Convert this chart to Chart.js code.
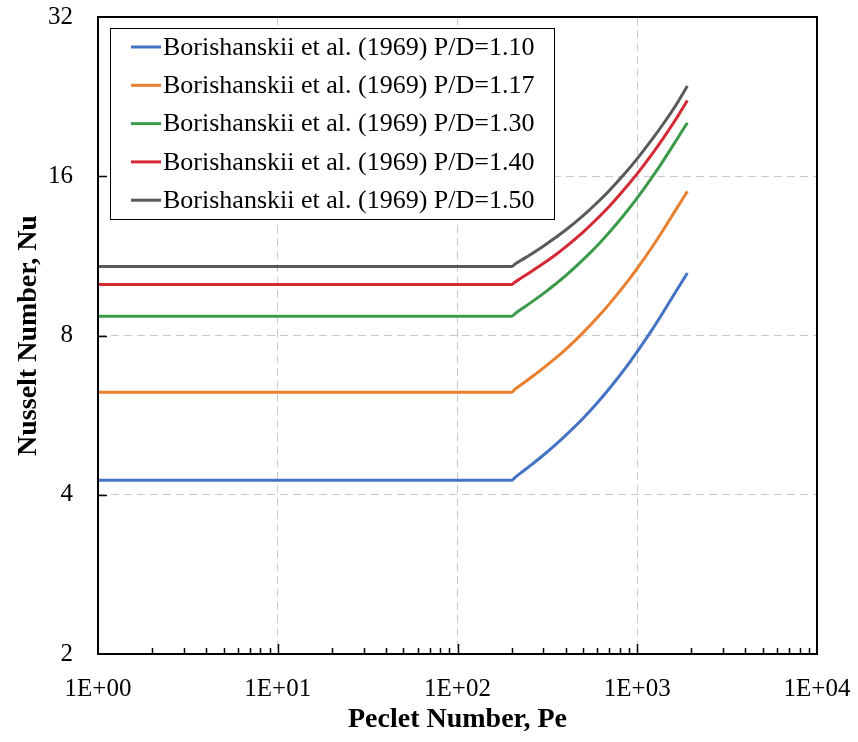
<!DOCTYPE html>
<html>
<head>
<meta charset="utf-8">
<script src="https://cdn.jsdelivr.net/npm/chart.js@4/dist/chart.umd.min.js"></script>
<style>
  html, body { margin: 0; padding: 0; background: #fff; }
  #wrap { width: 858px; height: 742px; }
</style>
</head>
<body>
<div id="wrap"><canvas id="c" width="858" height="742"></canvas></div>
<script>
// ---- data ----
const pe    = [1, 200, 210, 225, 250, 300, 350, 400, 500, 600, 700, 850, 1000, 1200, 1400, 1650, 1900];
const nu110 = [4.26, 4.26, 4.32, 4.40, 4.52, 4.75, 4.97, 5.18, 5.58, 5.97, 6.35, 6.91, 7.46, 8.17, 8.87, 9.72, 10.50];
const nu117 = [6.25, 6.25, 6.34, 6.45, 6.62, 6.94, 7.24, 7.53, 8.10, 8.65, 9.18, 9.96, 10.72, 11.71, 12.69, 13.88, 14.98];
const nu130 = [8.70, 8.70, 8.81, 8.96, 9.18, 9.60, 10.00, 10.38, 11.13, 11.84, 12.54, 13.56, 14.56, 15.87, 17.15, 18.72, 20.20];
const nu140 = [9.99, 9.99, 10.11, 10.26, 10.50, 10.94, 11.36, 11.77, 12.55, 13.31, 14.04, 15.13, 16.18, 17.56, 18.91, 20.57, 22.25];
const nu150 = [10.80, 10.80, 10.93, 11.09, 11.33, 11.80, 12.24, 12.66, 13.48, 14.27, 15.04, 16.17, 17.28, 18.72, 20.13, 21.87, 23.70];
const seriesLabels = [
  'Borishanskii et al. (1969) P/D=1.10',
  'Borishanskii et al. (1969) P/D=1.17',
  'Borishanskii et al. (1969) P/D=1.30',
  'Borishanskii et al. (1969) P/D=1.40',
  'Borishanskii et al. (1969) P/D=1.50'
];
const xTicks = [1, 10, 100, 1000, 10000];
const yTicks = [2, 4, 8, 16, 32];

const colors = ['#4472c4', '#e8802f', '#3c9b4a', '#d42a33', '#595959'];
const allSeries = [nu110, nu117, nu130, nu140, nu150];

const serif = '"Liberation Serif", "Times New Roman", serif';
Chart.defaults.font.family = serif;
Chart.defaults.color = '#000';

const datasets = allSeries.map((arr, i) => ({
  label: seriesLabels[i],
  data: pe.map((p, j) => ({ x: p, y: arr[j] })),
  borderColor: colors[i],
  backgroundColor: colors[i],
  borderWidth: 3,
  pointRadius: 0,
  fill: false,
  cubicInterpolationMode: 'monotone'
}));

function zeroPad(s) {
  s.paddingTop = 0; s.paddingBottom = 0; s.paddingLeft = 0; s.paddingRight = 0;
}

const framePlugin = {
  id: 'frame',
  afterDatasetsDraw(chart) {
    const { ctx, chartArea: a, scales: { x, y } } = chart;
    ctx.save();
    // inside tick marks
    ctx.strokeStyle = '#000';
    ctx.lineWidth = 1.5;
    ctx.beginPath();
    yTicks.forEach(v => {
      if (v > 2 && v < 32) {
        const py = Math.round(y.getPixelForValue(v)) + 0.5;
        ctx.moveTo(a.left, py); ctx.lineTo(a.left + 9, py);
      }
    });
    for (let d = 0; d < 4; d++) {
      for (let m = 1; m <= 9; m++) {
        const v = m * Math.pow(10, d);
        if (v === 1) continue;
        const px = Math.round(x.getPixelForValue(v)) + 0.5;
        const len = (m === 1) ? 10 : 6;
        ctx.moveTo(px, a.bottom); ctx.lineTo(px, a.bottom - len);
      }
    }
    ctx.stroke();
    // plot frame
    ctx.lineWidth = 2;
    ctx.strokeRect(a.left, a.top, a.right - a.left, a.bottom - a.top);

    // legend box
    const lx = a.left + 12, ly = a.top + 11, lw = 444, lh = 191;
    ctx.fillStyle = '#fff';
    ctx.fillRect(lx, ly, lw, lh);
    ctx.lineWidth = 1;
    ctx.strokeStyle = '#000';
    ctx.strokeRect(lx + 0.5, ly + 0.5, lw, lh);
    ctx.font = '26px ' + serif;
    ctx.textBaseline = 'middle';
    ctx.textAlign = 'left';
    chart.data.datasets.forEach((ds, i) => {
      const ry = ly + 19 + i * 38.3;
      ctx.strokeStyle = ds.borderColor;
      ctx.lineWidth = 3;
      ctx.beginPath();
      ctx.moveTo(a.left + 33, ry); ctx.lineTo(a.left + 63, ry);
      ctx.stroke();
      ctx.fillStyle = '#000';
      ctx.fillText(ds.label, a.left + 65, ry + 1);
    });
    ctx.restore();
  }
};

new Chart(document.getElementById('c'), {
  type: 'line',
  data: { datasets },
  options: {
    responsive: false,
    animation: false,
    layout: { padding: { top: 17, right: 41, left: 0, bottom: 0 } },
    plugins: { legend: { display: false }, tooltip: { enabled: false } },
    scales: {
      x: {
        type: 'logarithmic',
        min: 1, max: 10000,
        afterBuildTicks: s => { s.ticks = xTicks.map(v => ({ value: v })); },
        afterFit: s => { s.height = 88; zeroPad(s); },
        ticks: {
          autoSkip: false, maxRotation: 0,
          padding: 20,
          font: { size: 25 },
          callback: v => '1E+' + String(Math.round(Math.log10(v))).padStart(2, '0')
        },
        grid: {
          drawTicks: false,
          color: c => (c.tick && (c.tick.value === 1 || c.tick.value === 10000)) ? 'rgba(0,0,0,0)' : '#c9c9c9',
          lineWidth: 1
        },
        border: { display: false, dash: [8, 5] },
        title: {
          display: true,
          text: 'Peclet Number, Pe',
          font: { size: 28, weight: 'bold' },
          padding: { top: 0, bottom: 5 }
        }
      },
      y: {
        type: 'logarithmic',
        min: 2, max: 32,
        afterBuildTicks: s => { s.ticks = yTicks.map(v => ({ value: v })); },
        afterFit: s => { s.width = 98; zeroPad(s); },
        ticks: {
          autoSkip: false,
          padding: 25,
          font: { size: 25 },
          callback: v => String(v)
        },
        grid: {
          drawTicks: false,
          color: c => (c.tick && (c.tick.value === 2 || c.tick.value === 32)) ? 'rgba(0,0,0,0)' : '#c9c9c9',
          lineWidth: 1
        },
        border: { display: false, dash: [8, 5] },
        title: {
          display: true,
          text: 'Nusselt Number, Nu',
          font: { size: 28, weight: 'bold' },
          padding: { top: 12, bottom: 0 }
        }
      }
    }
  },
  plugins: [framePlugin]
});
</script>
</body>
</html>
